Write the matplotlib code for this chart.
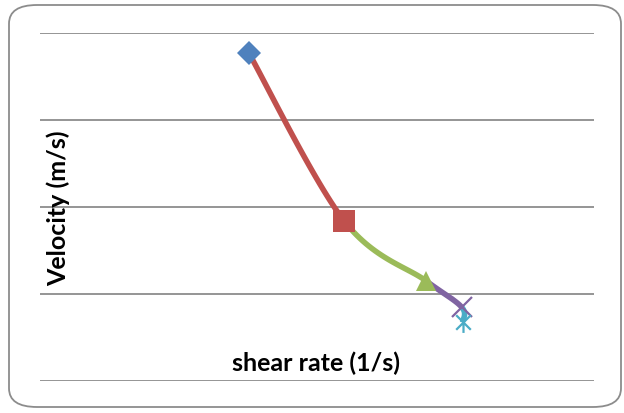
import numpy as np
import matplotlib
matplotlib.use("Agg")
import matplotlib.pyplot as plt
from matplotlib.patches import FancyBboxPatch
from matplotlib.path import Path

# flow curve points, one marker per series
shear_rate = [3.77, 5.49, 6.97, 7.61, 7.63]
velocity = [3.77, 1.84, 1.15, 0.85, 0.68]
markers = ["D", "s", "^", "x", "asterisk"]
colors = ["#4F81BD", "#C0504D", "#9BBB59", "#8064A2", "#4BACC6"]
marker_sizes = [12, 16, 15, 14, 15]

# excel-style star: an x with a vertical bar through it
asterisk = Path([(-0.7, -0.7), (0.7, 0.7), (-0.7, 0.7), (0.7, -0.7), (0, -1), (0, 1)],
                [Path.MOVETO, Path.LINETO, Path.MOVETO, Path.LINETO, Path.MOVETO, Path.LINETO])


def smooth(xs, ys, i, n=30):
    # catmull-rom segment between point i and i+1 (excel style smoothed line)
    p = np.column_stack([xs, ys])
    p0 = p[max(i - 1, 0)]
    p1 = p[i]
    p2 = p[i + 1]
    p3 = p[min(i + 2, len(p) - 1)]
    t = np.linspace(0, 1, n)[:, None]
    seg = 0.5 * ((2 * p1) + (-p0 + p2) * t + (2 * p0 - 5 * p1 + 4 * p2 - p3) * t ** 2
                 + (-p0 + 3 * p1 - 3 * p2 + p3) * t ** 3)
    return seg[:, 0], seg[:, 1]


fig = plt.figure(figsize=(6.24, 4.14), dpi=100)
ax = fig.add_axes([40 / 624, 32 / 414, 554 / 624, 348 / 414])

# rounded chart border
border = FancyBboxPatch((9 / 624, 6 / 414), 612 / 624, 402 / 414,
                        boxstyle="round,pad=0,rounding_size=0.045",
                        transform=fig.transFigure, facecolor="white",
                        edgecolor="#8c8c8c", linewidth=1.3, zorder=-10)
fig.patches.append(border)
ax.set_facecolor("none")

# line segments, each coloured like the series it leads into
for i in range(len(shear_rate) - 1):
    sx, sy = smooth(shear_rate, velocity, i)
    ax.plot(sx, sy, color=colors[i + 1], linewidth=4, solid_capstyle="butt", zorder=2)

for i in range(len(shear_rate)):
    m = asterisk if markers[i] == "asterisk" else markers[i]
    line_marker = markers[i] in ("x", "asterisk")
    ax.plot(shear_rate[i], velocity[i], marker=m, color=colors[i],
            markersize=marker_sizes[i], markeredgewidth=1.6 if line_marker else 0,
            markeredgecolor=colors[i], linestyle="none", zorder=3)

ax.set_xlim(0, 10)
ax.set_ylim(0, 4)
ax.set_yticks([0, 1, 2, 3, 4])
ax.set_xticks([])
ax.yaxis.grid(True, color="#8c8c8c", linewidth=1.3)
ax.tick_params(left=False, labelleft=False)
for s in ax.spines.values():
    s.set_visible(False)

font = {"family": "Lato", "weight": "bold", "size": 18}
ax.set_xlabel("shear rate (1/s)", **font)
ax.set_ylabel("Velocity (m/s)", **font)
ax.xaxis.label.set_va("center")
ax.yaxis.label.set_va("center")
ax.xaxis.set_label_coords(0.498, 0.055)
ax.yaxis.set_label_coords(0.034, 0.50)

fig.savefig("out.png", dpi=100)
